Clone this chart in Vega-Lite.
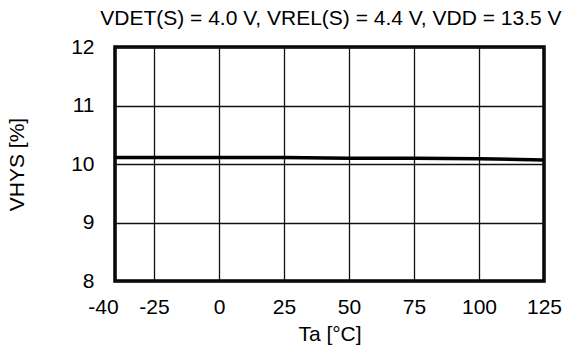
{
  "$schema": "https://vega.github.io/schema/vega-lite/v6.json",
  "autosize": "none",
  "width": 429,
  "height": 234,
  "padding": {"left": 115, "top": 47, "right": 23, "bottom": 70},
  "background": "white",
  "title": {
    "text": "VDET(S) = 4.0 V, VREL(S) = 4.4 V, VDD = 13.5 V",
    "anchor": "end",
    "font": "Liberation Sans",
    "fontSize": 21,
    "fontWeight": "normal",
    "color": "black",
    "offset": 7
  },
  "config": {
    "view": {"stroke": "black", "strokeWidth": 3.5},
    "axis": {
      "labelFont": "Liberation Sans",
      "titleFont": "Liberation Sans",
      "labelFontSize": 21,
      "titleFontSize": 21,
      "titleFontWeight": "normal",
      "labelColor": "black",
      "titleColor": "black",
      "gridColor": "#111111",
      "gridWidth": 1.3,
      "gridOpacity": 1,
      "domain": false,
      "ticks": false
    }
  },
  "data": {
    "values": [
      {"ta": -40, "v": 10.11},
      {"ta": -25, "v": 10.11},
      {"ta": 0, "v": 10.11},
      {"ta": 25, "v": 10.11},
      {"ta": 50, "v": 10.10},
      {"ta": 75, "v": 10.10},
      {"ta": 100, "v": 10.09},
      {"ta": 125, "v": 10.07}
    ]
  },
  "mark": {"type": "line", "color": "black", "strokeWidth": 3.5, "clip": true},
  "encoding": {
    "x": {
      "field": "ta",
      "type": "quantitative",
      "scale": {"domain": [-40, 125], "nice": false, "zero": false},
      "axis": {
        "values": [-40, -25, 0, 25, 50, 75, 100, 125],
        "labelExpr": "toString(datum.value)",
        "title": "Ta [°C]",
        "labelPadding": 15,
        "titlePadding": 6,
        "labelFlush": false,
        "labelOverlap": false,
        "labelOffset": {"condition": {"test": "datum.value == -40", "value": -12}, "value": 0}
      }
    },
    "y": {
      "field": "v",
      "type": "quantitative",
      "scale": {"domain": [8, 12], "nice": false, "zero": false},
      "axis": {
        "values": [8, 9, 10, 11, 12],
        "title": "VHYS [%]",
        "labelPadding": 21,
        "titlePadding": 43
      }
    }
  }
}
